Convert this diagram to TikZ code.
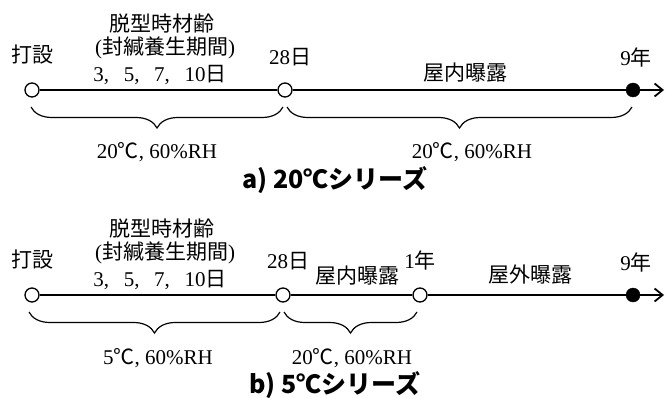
\documentclass[tikz,border=0pt]{standalone}
\usepackage{fontspec}
\setmainfont{Liberation Serif}
\newfontfamily\cjk{Noto Sans CJK JP}
\usetikzlibrary{arrows.meta,decorations.pathreplacing}
\newcommand{\numsep}{,\hspace{0.7em}}
\begin{document}
\begin{tikzpicture}[x=1pt,y=-1pt,
  lbl/.style={font=\fontsize{21}{25}\selectfont, inner sep=0pt},
  ttl/.style={font=\fontsize{25}{29}\selectfont\cjk\bfseries, inner sep=0pt},
  opn/.style={circle, draw, fill=white, line width=1.3pt, minimum size=14pt, inner sep=0pt},
  fil/.style={circle, draw, fill=black, minimum size=14pt, inner sep=0pt},
  tl/.style={line width=2pt},
  tip/.style={-{Straight Barb[length=8pt,width=13pt,line width=1.8pt]}},
  br/.style={decorate, decoration={brace, mirror, amplitude=21pt}, line width=1.2pt}]
\useasboundingbox (0,0) rectangle (666,398);

% ---------- a) 20C series ----------
\node[opn] (a0) at (32,90) {};
\node[opn] (a1) at (285,90) {};
\node[fil] (a2) at (633,90) {};
\coordinate (aend) at (664,90);
\draw[tl] (a0) -- (a1);
\draw[tl] (a1) -- (a2);
\draw[tl,tip] (a2) -- (aend);

\node[lbl] (ta0) at (33,55) {\cjk 打設};
\node[lbl] (ta1) at (162,24) {\cjk 脱型時材齢};
\node[lbl] (ta2) at (165,48) {(\cjk 封緘養生期間\rmfamily)};
\node[lbl] (ta3) at (160,75) {3\numsep 5\numsep 7\numsep 10{\cjk 日}};
\node[lbl] (ta4) at (290,57) {28{\cjk 日}};
\node[lbl] (ta5) at (465,73) {\cjk 屋内曝露};
\node[lbl] (ta6) at (636,57) {9{\cjk 年}};

\draw[br] ([xshift=-1pt,yshift=-17pt]a0.center) -- ([xshift=-2pt,yshift=-17pt]a1.center);
\draw[br] ([xshift=2pt,yshift=-17pt]a1.center) -- ([xshift=-1pt,yshift=-17pt]a2.center);
\node[lbl] (ca1) at (157,152) {20{\cjk ℃}, 60\%RH};
\node[lbl] (ca2) at (472,152) {20{\cjk ℃}, 60\%RH};
\node[ttl] (tta) at (335,180) {a) 20℃シリーズ};

% ---------- b) 5C series ----------
\node[opn] (b0) at (32,295) {};
\node[opn] (b1) at (283,295) {};
\node[opn] (b2) at (420,295) {};
\node[fil] (b3) at (633,295) {};
\coordinate (bend) at (664,295);
\draw[tl] (b0) -- (b1);
\draw[tl] (b1) -- (b2);
\draw[tl] (b2) -- (b3);
\draw[tl,tip] (b3) -- (bend);

\node[lbl] (tb0) at (33,260) {\cjk 打設};
\node[lbl] (tb1) at (162,229) {\cjk 脱型時材齢};
\node[lbl] (tb2) at (165,253) {(\cjk 封緘養生期間\rmfamily)};
\node[lbl] (tb3) at (160,280) {3\numsep 5\numsep 7\numsep 10{\cjk 日}};
\node[lbl] (tb4) at (288,261) {28{\cjk 日}};
\node[lbl] (tb5) at (357,276) {\cjk 屋内曝露};
\node[lbl] (tb6) at (420,260) {1{\cjk 年}};
\node[lbl] (tb7) at (530,275) {\cjk 屋外曝露};
\node[lbl] (tb8) at (636,262) {9{\cjk 年}};

\draw[br] ([xshift=-3pt,yshift=-17pt]b0.center) -- ([xshift=-3pt,yshift=-17pt]b1.center);
\draw[br] ([xshift=1pt,yshift=-17pt]b1.center) -- ([xshift=-3pt,yshift=-17pt]b2.center);
\node[lbl] (cb1) at (158,358) {5{\cjk ℃}, 60\%RH};
\node[lbl] (cb2) at (352,358) {20{\cjk ℃}, 60\%RH};
\node[ttl] (ttb) at (335,385) {b) 5℃シリーズ};
\end{tikzpicture}
\end{document}
